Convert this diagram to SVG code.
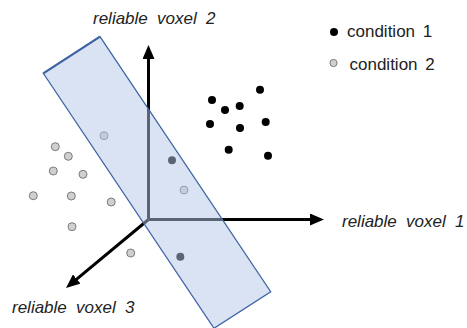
<svg xmlns="http://www.w3.org/2000/svg" width="467" height="328" viewBox="0 0 467 328">
  <style>
    .lbl { font-family: "Liberation Sans", Arial, sans-serif; font-style: italic; font-size: 17px; fill: #222; word-spacing: 4.5px; }
    .leg { font-family: "Liberation Sans", Arial, sans-serif; font-size: 17px; fill: #222; word-spacing: 3px; }
    .axis { stroke: #000; stroke-width: 3; fill: none; marker-end: url(#arrow); }
    .c1 { fill: #000; }
    .c2 { fill: #d0d0d0; stroke: #7a7a7a; stroke-width: 1; }
  </style>
  <defs>
    <marker id="arrow" viewBox="0 0 14 12" markerWidth="14" markerHeight="12" refX="4" refY="6" orient="auto" markerUnits="userSpaceOnUse">
      <path d="M0,0 L14,6 L0,12 z" fill="#000"/>
    </marker>
  </defs>
  <rect width="467" height="328" fill="#fff"/>

  <g id="axes">
    <line class="axis" x1="148.5" y1="219.5" x2="148.5" y2="55"/>
    <line class="axis" x1="148.5" y1="219.5" x2="314" y2="219.5"/>
    <line class="axis" x1="148.5" y1="219.5" x2="73.7" y2="281.6"/>
  </g>

  <g id="condition1-points">
    <circle class="c1" cx="260" cy="89.7" r="4"/>
    <circle class="c1" cx="212" cy="100" r="4"/>
    <circle class="c1" cx="225" cy="110" r="4"/>
    <circle class="c1" cx="239.7" cy="106" r="4"/>
    <circle class="c1" cx="210" cy="124" r="4"/>
    <circle class="c1" cx="240" cy="128" r="4"/>
    <circle class="c1" cx="265.7" cy="122" r="4"/>
    <circle class="c1" cx="228.7" cy="149.7" r="4"/>
    <circle class="c1" cx="268" cy="155.7" r="4"/>
    <circle class="c1" cx="172" cy="160.3" r="4"/>
    <circle class="c1" cx="180.3" cy="256.7" r="4"/>
  </g>

  <g id="condition2-points">
    <circle class="c2" cx="104" cy="135.7" r="4"/>
    <circle class="c2" cx="55.3" cy="146.7" r="4"/>
    <circle class="c2" cx="68.3" cy="156.3" r="4"/>
    <circle class="c2" cx="53.3" cy="171" r="4"/>
    <circle class="c2" cx="83" cy="174.3" r="4"/>
    <circle class="c2" cx="33.3" cy="195.7" r="4"/>
    <circle class="c2" cx="71.3" cy="196" r="4"/>
    <circle class="c2" cx="111.2" cy="202" r="4"/>
    <circle class="c2" cx="72" cy="226.7" r="4"/>
    <circle class="c2" cx="130.7" cy="253" r="4"/>
    <circle class="c2" cx="184" cy="190" r="4"/>
  </g>

  <g id="plane">
    <polygon points="43.3,73.3 100,36.7 270.7,291.7 214,328.3" fill="#b4c7e7" fill-opacity="0.5" stroke="#3f64a6" stroke-width="1.3"/>
    <line x1="43.3" y1="73.3" x2="100" y2="36.7" stroke="#3f64a6" stroke-width="2.2"/>
  </g>

  <g id="labels">
    <text class="lbl" x="93" y="24">reliable voxel 2</text>
    <text class="lbl" x="342" y="227">reliable voxel 1</text>
    <text class="lbl" x="12" y="313">reliable voxel 3</text>
  </g>

  <g id="legend">
    <circle class="c1" cx="334" cy="32" r="4"/>
    <text class="leg" x="347" y="37">condition 1</text>
    <circle class="c2" cx="333.5" cy="63" r="3.6"/>
    <text class="leg" x="349.5" y="70">condition 2</text>
  </g>
</svg>
